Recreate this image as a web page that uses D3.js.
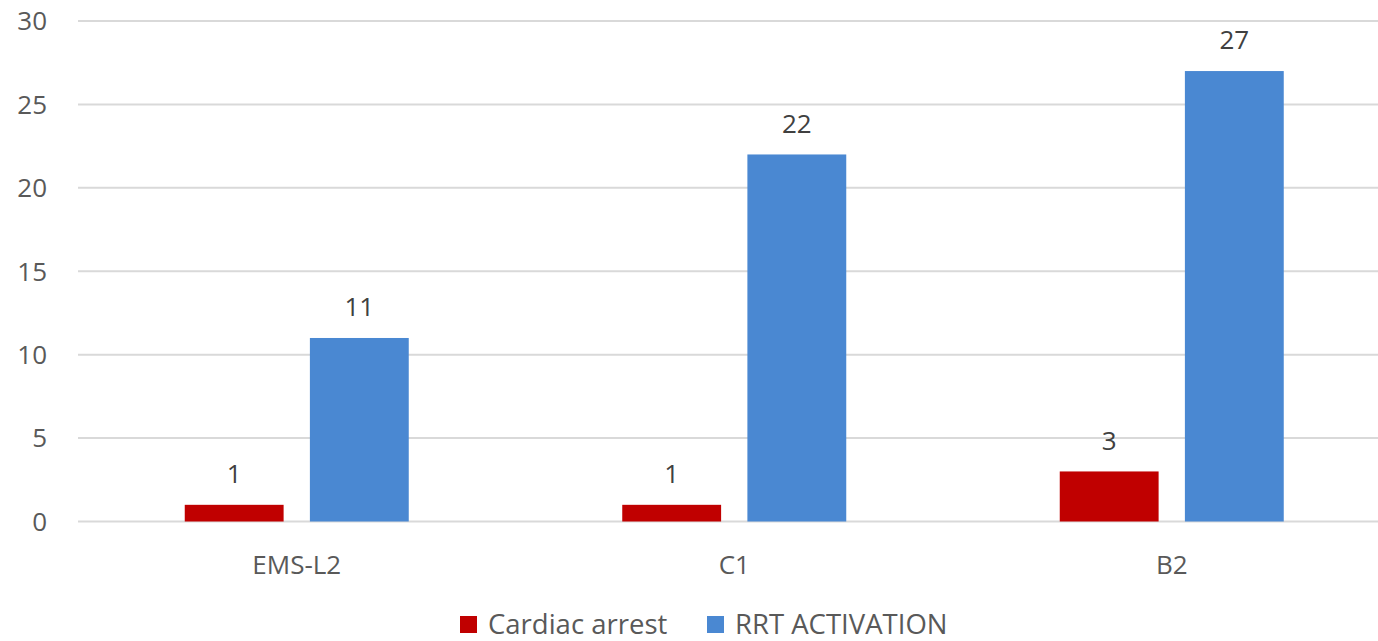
<!DOCTYPE html>
<html lang="en">
<head>
<meta charset="UTF-8">
<title>Cardiac arrest vs RRT activation</title>
<script src="https://d3js.org/d3.v7.min.js"></script>
<style>
    body { margin: 0; background: #fff; }
    text { font-family: "Open Sans", "Liberation Sans", sans-serif; }
</style>
</head>
<body>
<svg width="1378" height="641"></svg>
<script>
    const categories = ["EMS-L2", "C1", "B2"];
    const seriesNames = ["Cardiac arrest", "RRT ACTIVATION"];
    const cardiacArrest = [1, 1, 3];
    const rrtActivation = [11, 22, 27];
    const yTicks = [0, 5, 10, 15, 20, 25, 30];
    const colors = ["#c00000", "#4a88d2"];

    const svg = d3.select("svg");

    const x = d3.scaleBand().domain(categories).range([78, 1390.5]);
    const y = d3.scaleLinear().domain([0, 30]).range([521.5, 21]);
    const inner = d3.scaleBand().domain(seriesNames).range([-112, 112]).paddingInner(0.21);

    // gridlines
    svg.append("g").selectAll("line")
        .data(yTicks)
        .enter().append("line")
        .attr("x1", 78).attr("x2", 1378)
        .attr("y1", d => y(d)).attr("y2", d => y(d))
        .attr("stroke", "#d9d9d9").attr("stroke-width", 2);

    // y labels
    svg.append("g").selectAll("text")
        .data(yTicks)
        .enter().append("text")
        .attr("x", 47).attr("y", d => y(d))
        .attr("dy", "0.36em")
        .attr("text-anchor", "end")
        .attr("font-size", 26)
        .attr("fill", "#595959")
        .text(d => d);

    const series = [cardiacArrest, rrtActivation];
    series.forEach((vals, s) => {
        const g = svg.append("g");
        g.selectAll("rect")
            .data(vals)
            .enter().append("rect")
            .attr("x", (d, i) => x(categories[i]) + x.bandwidth() / 2 + inner(seriesNames[s]))
            .attr("y", d => y(d))
            .attr("width", inner.bandwidth())
            .attr("height", d => y(0) - y(d))
            .attr("fill", colors[s]);
        g.selectAll("text")
            .data(vals)
            .enter().append("text")
            .attr("x", (d, i) => x(categories[i]) + x.bandwidth() / 2 + inner(seriesNames[s]) + inner.bandwidth() / 2)
            .attr("y", d => y(d) - 31)
            .attr("dy", "0.36em")
            .attr("text-anchor", "middle")
            .attr("font-size", 26)
            .attr("fill", "#404040")
            .text(d => d);
    });

    // category labels
    svg.append("g").selectAll("text")
        .data(categories)
        .enter().append("text")
        .attr("x", d => x(d) + x.bandwidth() / 2)
        .attr("y", 565)
        .attr("dy", "0.36em")
        .attr("text-anchor", "middle")
        .attr("font-size", 26)
        .attr("fill", "#595959")
        .text(d => d);

    // legend
    const legendX = [460, 707];
    const legend = svg.append("g").selectAll("g")
        .data(seriesNames)
        .enter().append("g")
        .attr("transform", (d, i) => `translate(${legendX[i]}, 616)`);
    legend.append("rect")
        .attr("width", 17).attr("height", 17)
        .attr("fill", (d, i) => colors[i]);
    legend.append("text")
        .attr("x", 28).attr("y", 8)
        .attr("dy", "0.36em")
        .attr("font-size", 27.5)
        .attr("fill", "#595959")
        .text(d => d);
</script>
</body>
</html>
